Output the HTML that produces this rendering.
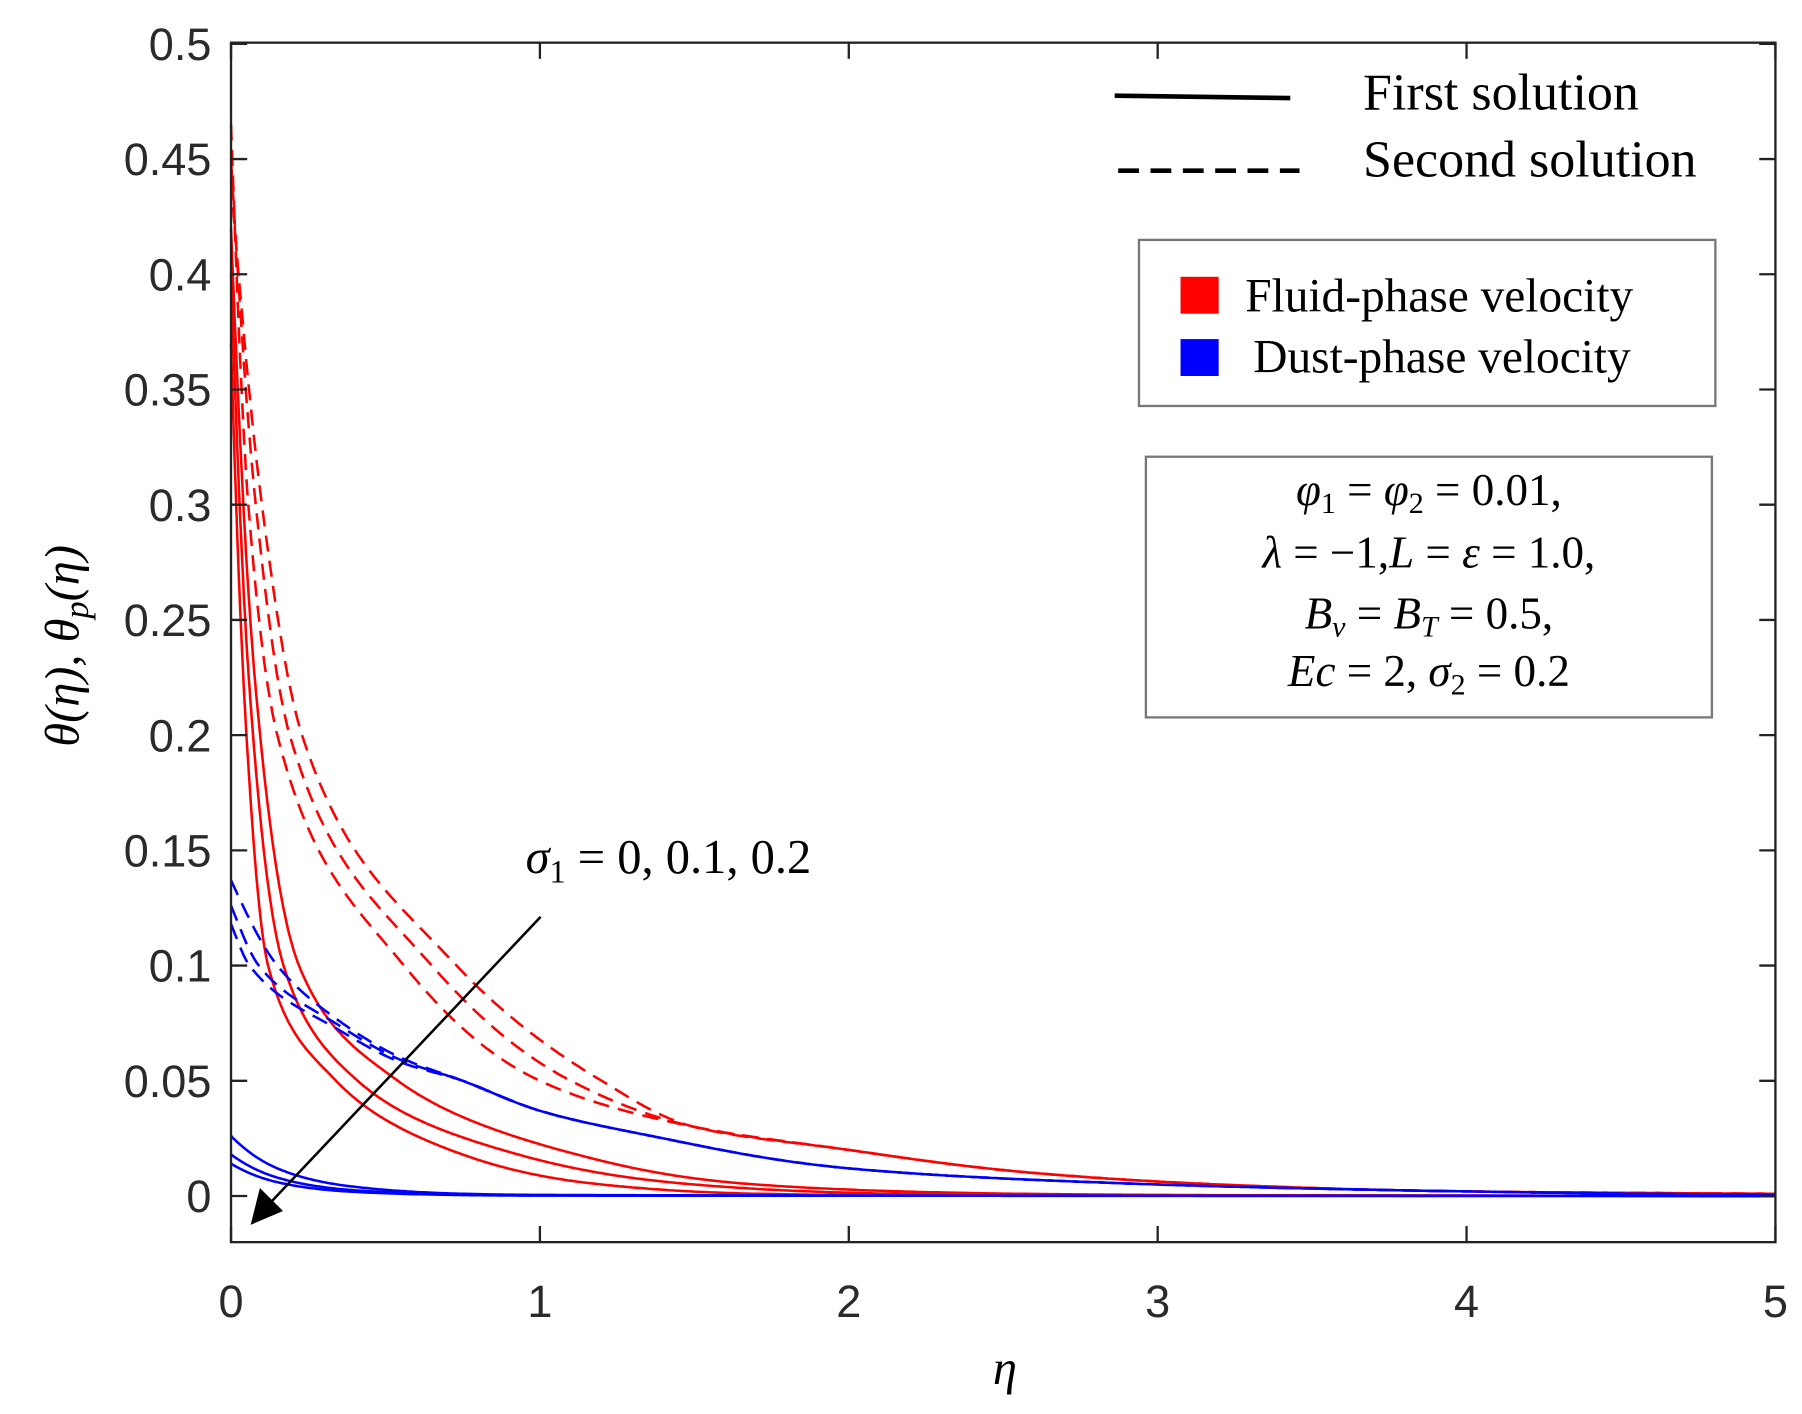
<!DOCTYPE html>
<html><head><meta charset="utf-8"><style>
html,body{margin:0;padding:0;background:#fff}
svg{display:block}
.t{font-family:"Liberation Sans",sans-serif;font-size:39px;fill:#2a2a2a}
.s{font-family:"Liberation Serif",serif;fill:#000}
</style></head><body>
<svg id="g" width="1802" height="1414" viewBox="0 0 1560 1226" preserveAspectRatio="none" xmlns="http://www.w3.org/2000/svg">
<rect x="0" y="0" width="1560" height="1226" fill="#fff"/>
<g id="curves" fill="none" stroke-width="2.2"></g>
<rect x="200" y="37" width="1337" height="1040" fill="none" stroke="#222" stroke-width="2"/>
<g id="ticks" stroke="#222" stroke-width="2"></g>
<g id="labels"></g>
<line x1="468" y1="795" x2="232" y2="1045" stroke="#000" stroke-width="2.2"/>
<polygon points="217,1062 225,1030 245,1050" fill="#000"/>
<text class="s" x="455" y="757" font-size="42" font-style="italic">σ<tspan font-size="28" dy="8" font-style="normal">1</tspan><tspan dy="-8" font-style="normal"> = 0, 0.1, 0.2</tspan></text>
<line x1="965" y1="83" x2="1117" y2="85" stroke="#000" stroke-width="4"/>
<line x1="968" y1="148" x2="1125" y2="148" stroke="#000" stroke-width="4" stroke-dasharray="18,10"/>
<text class="s" x="1180" y="95" font-size="45">First solution</text>
<text class="s" x="1180" y="153" font-size="45">Second solution</text>
<rect x="986" y="208" width="499" height="144" fill="#fff" stroke="#777" stroke-width="2"/>
<rect x="1022" y="240" width="33" height="32" fill="#f00"/>
<rect x="1022" y="294" width="33" height="32" fill="#00f"/>
<text class="s" x="1078" y="270" font-size="41">Fluid-phase velocity</text>
<text class="s" x="1085" y="323" font-size="41">Dust-phase velocity</text>
<rect x="992" y="396" width="490" height="226" fill="#fff" stroke="#777" stroke-width="2"/>
<g class="s" font-size="39" text-anchor="middle">
<text x="1237" y="438"><tspan font-style="italic">φ</tspan><tspan font-size="26" dy="7">1</tspan><tspan dy="-7"> = </tspan><tspan font-style="italic">φ</tspan><tspan font-size="26" dy="7">2</tspan><tspan dy="-7"> = 0.01,</tspan></text>
<text x="1237" y="492"><tspan font-style="italic">λ</tspan> = −1,<tspan font-style="italic">L</tspan> = <tspan font-style="italic">ε</tspan> = 1.0,</text>
<text x="1237" y="545"><tspan font-style="italic">B</tspan><tspan font-size="26" dy="7" font-style="italic">v</tspan><tspan dy="-7"> = </tspan><tspan font-style="italic">B</tspan><tspan font-size="26" dy="7" font-style="italic">T</tspan><tspan dy="-7"> = 0.5,</tspan></text>
<text x="1237" y="595"><tspan font-style="italic">Ec</tspan> = 2, <tspan font-style="italic">σ</tspan><tspan font-size="26" dy="7">2</tspan><tspan dy="-7"> = 0.2</tspan></text>
</g>
<text class="s" x="870" y="1200" font-size="42" font-style="italic" text-anchor="middle">η</text>
<text class="s" transform="translate(68,560) rotate(-90)" font-size="42" font-style="italic" text-anchor="middle">θ(η), θ<tspan font-size="30" dy="8">p</tspan><tspan dy="-8">(η)</tspan></text>
</svg>
<script>
const X=e=>200+e*267.4, Y=v=>1037-v*1998;
const NS="http://www.w3.org/2000/svg";
function pchip(pts){
  const n=pts.length,x=pts.map(p=>p[0]),y=pts.map(p=>Math.log(p[1]+2e-4));
  const h=[],d=[];for(let i=0;i<n-1;i++){h[i]=x[i+1]-x[i];d[i]=(y[i+1]-y[i])/h[i];}
  const m=new Array(n);m[0]=d[0];m[n-1]=d[n-2];
  for(let i=1;i<n-1;i++){if(d[i-1]*d[i]<=0)m[i]=0;else{const w1=2*h[i]+h[i-1],w2=h[i]+2*h[i-1];m[i]=(w1+w2)/(w1/d[i-1]+w2/d[i]);}}
  return e=>{let i=0;while(i<n-2&&e>x[i+1])i++;const t=(e-x[i])/h[i];
    const h00=2*t*t*t-3*t*t+1,h10=t*t*t-2*t*t+t,h01=-2*t*t*t+3*t*t,h11=t*t*t-t*t;
    return Math.exp(h00*y[i]+h10*h[i]*m[i]+h01*y[i+1]+h11*h[i]*m[i+1])-2e-4;};}
function curve(pts,color,dash){
  const f=pchip(pts);let d="";
  for(let i=0;i<=600;i++){const ee=i<200?Math.pow(i/200,2)*1.0:1+(i-200)/400*4;
    d+=(i?"L":"M")+X(ee).toFixed(1)+","+Y(Math.max(0,f(ee))).toFixed(1);}
  const p=document.createElementNS(NS,"path");p.setAttribute("d",d);p.setAttribute("stroke",color);
  if(dash)p.setAttribute("stroke-dasharray","14,8");document.getElementById("curves").appendChild(p);}
curve([[0,0.37],[0.05,0.2],[0.12,0.1],[0.34,0.05],[0.75,0.018],[1.2,0.005],[2,0.0005],[5,0.00005]],"#f00");
curve([[0,0.40],[0.06,0.22],[0.17,0.1],[0.41,0.05],[0.93,0.018],[1.5,0.005],[2.5,0.0005],[5,0.00005]],"#f00");
curve([[0,0.42],[0.08,0.22],[0.22,0.1],[0.54,0.05],[1.12,0.018],[1.7,0.005],[3,0.0005],[5,0.00005]],"#f00");
const rt=[[1.5,0.03],[2,0.02],[2.6,0.01],[3.2,0.005],[4,0.002],[5,0.001]];
curve([[0,0.465],[0.056,0.3],[0.15,0.2],[0.56,0.1],[1.0,0.05],...rt],"#f00",1);
curve([[0,0.45],[0.08,0.3],[0.19,0.2],[0.65,0.1],[1.1,0.05],...rt],"#f00",1);
curve([[0,0.44],[0.1,0.3],[0.23,0.2],[0.73,0.1],[1.2,0.05],...rt],"#f00",1);
const bt=[[0.75,0.05],[1.0,0.037],[1.4,0.025],[2,0.012],[3,0.005],[4,0.002],[5,0.0005]];
curve([[0,0.137],[0.15,0.1],[0.35,0.076],[0.55,0.06],...bt],"#00f",1);
curve([[0,0.126],[0.09,0.1],[0.35,0.074],[0.55,0.059],...bt],"#00f",1);
curve([[0,0.118],[0.06,0.1],[0.35,0.072],[0.55,0.058],...bt],"#00f",1);
curve([[0,0.026],[0.15,0.012],[0.4,0.004],[1,0.0005],[5,0.00001]],"#00f");
curve([[0,0.018],[0.15,0.008],[0.4,0.0025],[1,0.0003],[5,0.00001]],"#00f");
curve([[0,0.014],[0.15,0.006],[0.4,0.0018],[1,0.0002],[5,0.00001]],"#00f");
const tk=document.getElementById("ticks"),lb=document.getElementById("labels");
function L(x1,y1,x2,y2){const l=document.createElementNS(NS,"line");l.setAttribute("x1",x1);l.setAttribute("y1",y1);l.setAttribute("x2",x2);l.setAttribute("y2",y2);tk.appendChild(l);}
function T(x,y,s,a){const t=document.createElementNS(NS,"text");t.setAttribute("x",x);t.setAttribute("y",y);t.setAttribute("class","t");t.setAttribute("text-anchor",a);t.textContent=s;lb.appendChild(t);}
for(let i=0;i<=5;i++){const x=X(i);L(x,1077,x,1063);L(x,37,x,51);T(x,1142,String(i),"middle");}
for(let i=0;i<=10;i++){const v=i*0.05,y=Y(v);L(200,y,214,y);L(1537,y,1523,y);
  T(183,y+14,(+v.toFixed(2)).toString(),"end");}
</script>
</body></html>
